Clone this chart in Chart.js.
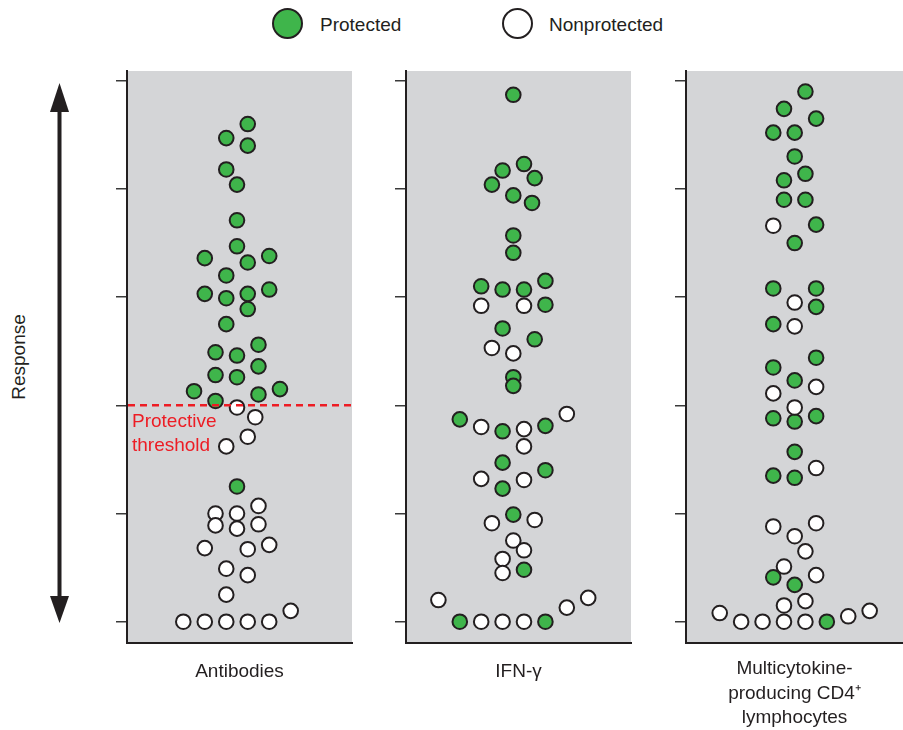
<!DOCTYPE html>
<html>
<head>
<meta charset="utf-8">
<script src="https://cdn.jsdelivr.net/npm/chart.js@4.4.1/dist/chart.umd.min.js"></script>
<style>
html,body{margin:0;padding:0;background:#fff;}
#wrap{position:relative;width:903px;height:730px;overflow:hidden;font-family:"Liberation Sans",Arial,Helvetica,sans-serif;color:#231f20;}
canvas{position:absolute;top:0;}
.dot{position:absolute;top:8px;width:27px;height:27px;border:2.5px solid #231f20;border-radius:50%;box-sizing:content-box;}
.lt{position:absolute;top:13px;font-size:19px;line-height:24px;white-space:nowrap;}
#resp{position:absolute;left:-81.5px;top:345px;width:200px;height:24px;line-height:24px;font-size:19px;text-align:center;transform:rotate(-90deg);}
#arrow{position:absolute;left:0;top:0;}
</style>
</head>
<body>
<div id="wrap">
  <div class="dot" style="left:272px;background:#3fb54b;"></div>
  <div class="lt" style="left:320px;">Protected</div>
  <div class="dot" style="left:502px;background:#fff;"></div>
  <div class="lt" style="left:549px;">Nonprotected</div>
  <svg id="arrow" width="120" height="730">
    <line x1="59.5" y1="108" x2="59.5" y2="600" stroke="#231f20" stroke-width="4"/>
    <polygon points="59.5,83 50,112 69,112" fill="#231f20"/>
    <polygon points="59.5,623 50,596 69,596" fill="#231f20"/>
  </svg>
  <div id="resp">Response</div>
  <canvas id="c1" width="260" height="730" style="left:100px;width:260px;height:730px;"></canvas>
  <canvas id="c2" width="260" height="730" style="left:380px;width:260px;height:730px;"></canvas>
  <canvas id="c3" width="243" height="730" style="left:660px;width:243px;height:730px;"></canvas>
</div>
<script>
// ---- Data (response level; swarm column offset) ----
const RESPONSE_TICKS = [0, 1, 2, 3, 4, 5];
const THRESHOLD = 2;
const PANEL_LABELS = [["Antibodies"], ["IFN-\u03b3"], ["Multicytokine-", "producing CD4\u207a", "lymphocytes"]];
const SERIES_NAMES = ["Protected", "Nonprotected"];
const THRESHOLD_LABEL = ["Protective", "threshold"];

const AB_PROT_Y = [4.60,4.47,4.40,4.18,4.04,3.71,3.47,3.36,3.32,3.38,3.20,3.03,2.99,3.03,3.07,2.89,2.75,2.49,2.46,2.56,2.36,2.28,2.26,2.13,2.15,2.04,2.10,1.25];
const AB_PROT_X = [1,-1,1,-1,0,0,0,-3,1,3,-1,-3,-1,1,3,1,-1,-2,0,2,2,-2,0,-4,4,-2,2,0];
const AB_NON_Y = [1.98,1.89,1.71,1.62,1.00,1.00,1.07,0.89,0.86,0.90,0.68,0.67,0.71,0.49,0.43,0.25,0,0,0,0,0,0.10];
const AB_NON_X = [0,1.7,1,-1,-2,0,2,-2,0,2,-3,1,3,-1,1,-1,-5,-3,-1,1,3,5];

const IFN_PROT_Y = [4.87,4.17,4.23,4.10,4.04,3.94,3.87,3.57,3.41,3.10,3.07,3.07,3.15,2.93,2.71,2.61,2.26,2.18,1.87,1.76,1.81,1.47,1.40,1.23,0.99,0.48,0,0];
const IFN_PROT_X = [0,-1,1,2,-2,0,1.75,0,0,-3,-1,1,3,3,-1,2,0,0,-5,-1,3,-1,3,-1,0,1,-5,3];
const IFN_NON_Y = [2.92,2.92,2.53,2.48,1.80,1.78,1.92,1.62,1.32,1.31,0.91,0.94,0.75,0.66,0.58,0.45,0.20,0,0,0,0.13,0.22];
const IFN_NON_X = [-3,1,-2,0,-3,1,5,1,-3,1,-2,2,0,1,-1,-1,-7,-3,-1,1,5,7];

const MC_PROT_Y = [4.90,4.74,4.65,4.52,4.52,4.30,4.14,4.08,3.90,3.90,3.67,3.50,3.08,3.08,2.91,2.75,2.44,2.35,2.23,1.88,1.85,1.90,1.57,1.35,1.33,0.41,0.34,0];
const MC_PROT_X = [1,-1,2,-2,0,0,1,-1,-1,1,2,0,-2,2,2,-2,2,-2,0,-2,0,2,0,-2,0,-2,0,3];
const MC_NON_Y = [3.66,2.95,2.73,2.11,2.17,1.98,1.42,0.88,0.91,0.79,0.65,0.51,0.43,0.15,0.19,0.08,0,0,0,0,0.05,0.10];
const MC_NON_X = [-2,0,0,-2,2,0,2,-2,2,0,1,-1,2,-1,1,-7,-5,-3,-1,1,5,7];

// ---- Styles ----
const FONT = '"Liberation Sans", Arial, Helvetica, sans-serif';
const INK = '#231f20';
const GREEN = '#3fb54b';
const PANEL_BG = '#d4d5d7';
const RED = '#ed1c24';

const pts = (xs, ys) => xs.map((x, i) => ({x: x, y: ys[i]}));

const bgPlugin = {
  id: 'panelBg',
  beforeDraw(chart) {
    const a = chart.chartArea, ctx = chart.ctx;
    ctx.save();
    ctx.fillStyle = PANEL_BG;
    ctx.fillRect(a.left, a.top, a.right - a.left, a.bottom - a.top);
    ctx.restore();
  }
};

const thresholdPlugin = {
  id: 'threshold',
  afterDatasetsDraw(chart) {
    const a = chart.chartArea, ctx = chart.ctx;
    const y = chart.scales.y.getPixelForValue(THRESHOLD);
    ctx.save();
    ctx.strokeStyle = RED;
    ctx.lineWidth = 2.5;
    ctx.setLineDash([7, 5]);
    ctx.beginPath();
    ctx.moveTo(a.left + 1, y);
    ctx.lineTo(a.right - 1, y);
    ctx.stroke();
    ctx.setLineDash([]);
    ctx.fillStyle = RED;
    ctx.font = '19px ' + FONT;
    ctx.textBaseline = 'middle';
    ctx.textAlign = 'left';
    ctx.fillText(THRESHOLD_LABEL[0], a.left + 5, y + 16.5);
    ctx.fillText(THRESHOLD_LABEL[1], a.left + 5, y + 40);
    ctx.restore();
  }
};

function makePanel(id, label, prot, non, layout) {
  const plugins = [bgPlugin];
  if (layout.threshold) plugins.push(thresholdPlugin);
  return new Chart(document.getElementById(id), {
    type: 'scatter',
    data: {
      datasets: [
        {label: SERIES_NAMES[1], data: non, backgroundColor: '#ffffff', borderColor: INK, borderWidth: 2, pointRadius: 7.3, pointHoverRadius: 7.3, clip: false},
        {label: SERIES_NAMES[0], data: prot, backgroundColor: GREEN, borderColor: INK, borderWidth: 2, pointRadius: 7.3, pointHoverRadius: 7.3, clip: false}
      ]
    },
    options: {
      responsive: false,
      animation: false,
      events: [],
      layout: {autoPadding: false, padding: {left: 0, right: layout.padRight, top: 71, bottom: 0}},
      plugins: {legend: {display: false}, tooltip: {enabled: false}},
      scales: {
        x: {
          type: 'linear',
          min: layout.xMin, max: layout.xMax,
          ticks: {display: false},
          grid: {display: false},
          border: {display: true, color: INK, width: 2},
          title: {
            display: true,
            text: label.length > 1 ? label : label[0],
            color: INK,
            font: {family: FONT, size: 19, lineHeight: 24.4 / 19},
            padding: {top: 0, bottom: layout.titlePad}
          },
          afterFit(s) { s.height = 87; }
        },
        y: {
          type: 'linear',
          min: -0.197, max: 5.09,
          afterBuildTicks(s) { s.ticks = RESPONSE_TICKS.map(v => ({value: v})); },
          ticks: {display: false},
          grid: {display: true, drawOnChartArea: false, drawTicks: true, tickLength: 11, color: '#3a3a3a', lineWidth: 1.5},
          border: {display: true, color: INK, width: 2},
          afterFit(s) { s.width = layout.yWidth; }
        }
      }
    },
    plugins: plugins
  });
}

makePanel('c1', PANEL_LABELS[0], pts(AB_PROT_X, AB_PROT_Y), pts(AB_NON_X, AB_NON_Y),
  {padRight: 8, yWidth: 27, xMin: -10.242, xMax: 10.708, titlePad: 46.1, threshold: true});
makePanel('c2', PANEL_LABELS[1], pts(IFN_PROT_X, IFN_PROT_Y), pts(IFN_NON_X, IFN_NON_Y),
  {padRight: 9, yWidth: 26, xMin: -10.028, xMax: 11.0, titlePad: 46.1});
makePanel('c3', PANEL_LABELS[2], pts(MC_PROT_X, MC_PROT_Y), pts(MC_NON_X, MC_NON_Y),
  {padRight: 0, yWidth: 26, xMin: -10.149, xMax: 10.112, titlePad: 0});
</script>
</body>
</html>
